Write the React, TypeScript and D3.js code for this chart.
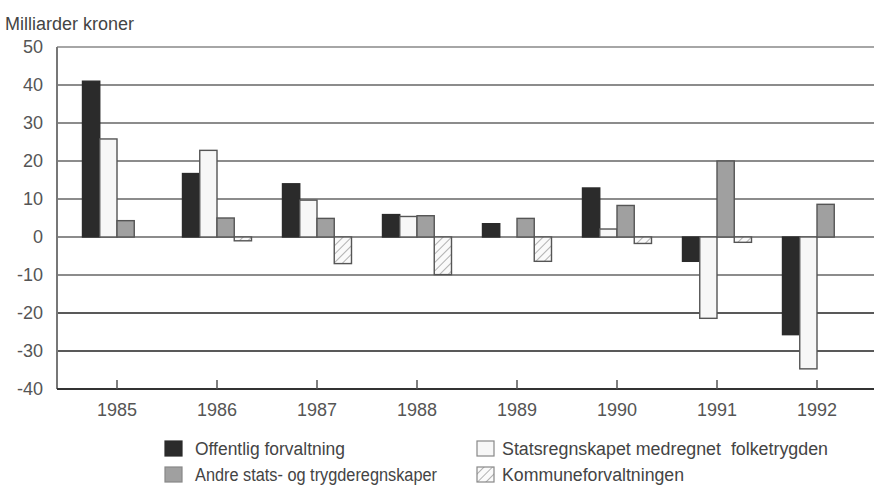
import React from "react";
import * as d3 from "d3";

const years = ["1985", "1986", "1987", "1988", "1989", "1990", "1991", "1992"];
const seriesNames = [
  "Offentlig forvaltning",
  "Statsregnskapet medregnet  folketrygden",
  "Andre stats- og trygderegnskaper",
  "Kommuneforvaltningen",
];
const offentlig = [41, 16.7, 14, 5.9, 3.5, 12.9, -6.4, -25.7];
const statsregnskap = [25.8, 22.8, 9.7, 5.4, 0, 2.1, -21.4, -34.7];
const andre = [4.3, 5, 4.9, 5.6, 4.9, 8.3, 20, 8.6];
const kommune = [0, -1, -7, -9.9, -6.4, -1.7, -1.4, 0];
const yTicks = [50, 40, 30, 20, 10, 0, -10, -20, -30, -40];

const seriesValues = [offentlig, statsregnskap, andre, kommune];

const W = 874;
const H = 488;
const left = 57;
const top = 47;
const bottom = 389;
const font = "'Liberation Sans', Arial, sans-serif";

const fills = ["#2b2b2b", "#f7f7f7", "#a0a0a0", "url(#hatch)"];
const strokes = ["#2b2b2b", "#555", "#555", "#555"];

export default function App() {
  const y = d3.scaleLinear().domain([-40, 50]).range([bottom, top]);
  const x0 = d3.scaleBand<string>().domain(years).range([67, 867]).padding(0);
  const groupW = 69;
  const x1 = d3
    .scaleBand<number>()
    .domain(d3.range(seriesNames.length))
    .range([0, groupW])
    .padding(0);

  const legendItems = [
    { i: 0, x: 165, y: 441, tx: 195, len: 150 },
    { i: 1, x: 477, y: 441, tx: 502, len: 326 },
    { i: 2, x: 165, y: 467, tx: 195, len: 242 },
    { i: 3, x: 477, y: 467, tx: 502, len: 182 },
  ];

  return (
    <svg width={W} height={H} style={{ position: "absolute", left: 0, top: 0, background: "#fff" }}>
      <defs>
        <pattern id="hatch" width="6" height="6" patternUnits="userSpaceOnUse" patternTransform="rotate(45)">
          <rect width="6" height="6" fill="#fafafa" />
          <line x1="0" y1="0" x2="0" y2="6" stroke="#8a8a8a" strokeWidth="1.3" />
        </pattern>
      </defs>
      <text x={5} y={30} fontFamily={font} fontSize={18} fill="#444">
        Milliarder kroner
      </text>
      {yTicks.map((t) => (
        <g key={t}>
          {t !== -40 && (
            <line
              x1={left}
              x2={W}
              y1={y(t)}
              y2={y(t)}
              stroke={t === -20 || t === -30 ? "#222" : t === 50 ? "#888" : "#666"}
              strokeWidth={t === 0 ? 1.4 : 1.6}
            />
          )}
          <text
            x={43}
            y={y(t)}
            dy="0.36em"
            textAnchor="end"
            fontFamily={font}
            fontSize={18}
            fill="#555"
          >
            {t}
          </text>
        </g>
      ))}
      {years.map((yr, yi) => (
        <g key={yr} transform={`translate(${(x0(yr) as number) + x0.bandwidth() / 2 - groupW / 2},0)`}>
          {seriesValues.map((vals, si) => {
            const v = vals[yi];
            const y1 = y(Math.max(0, v));
            const y2 = y(Math.min(0, v));
            return (
              <rect
                key={si}
                x={x1(si)}
                width={x1.bandwidth()}
                y={y1}
                height={Math.max(0, y2 - y1)}
                fill={fills[si]}
                stroke={strokes[si]}
                strokeWidth={1.4}
              />
            );
          })}
        </g>
      ))}
      <line x1={left} x2={left} y1={top} y2={bottom} stroke="#777" strokeWidth={2} />
      <line x1={left} x2={W} y1={bottom} y2={bottom} stroke="#333" strokeWidth={2} />
      {years.map((yr) => {
        const cx = (x0(yr) as number) + x0.bandwidth() / 2;
        return (
          <g key={yr}>
            <line x1={cx} x2={cx} y1={bottom - 9} y2={bottom} stroke="#555" strokeWidth={1.5} />
            <text x={cx} y={416} textAnchor="middle" fontFamily={font} fontSize={18} fill="#555">
              {yr}
            </text>
          </g>
        );
      })}
      {legendItems.map((it) => (
        <g key={it.i}>
          <rect
            x={it.x}
            y={it.y}
            width={17}
            height={15}
            fill={fills[it.i]}
            stroke={it.i === 0 ? "#2b2b2b" : "#888"}
            strokeWidth={1.2}
          />
          <text
            x={it.tx}
            y={it.y + 14}
            fontFamily={font}
            fontSize={18}
            fill="#444"
            textLength={it.len}
            lengthAdjust="spacingAndGlyphs"
            style={{ whiteSpace: "pre" }}
          >
            {seriesNames[it.i]}
          </text>
        </g>
      ))}
    </svg>
  );
}
